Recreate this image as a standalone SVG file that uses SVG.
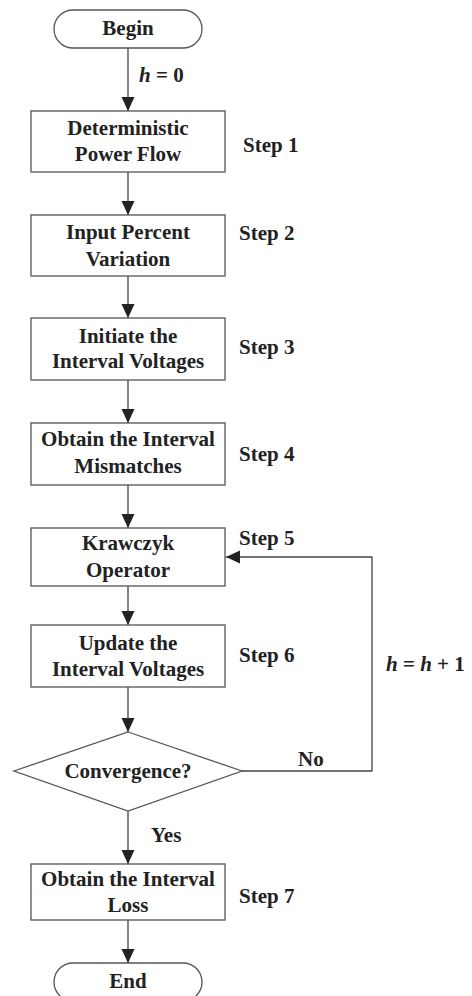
<svg xmlns="http://www.w3.org/2000/svg" width="472" height="996" viewBox="0 0 472 996">
<style>
.box{fill:#fff;stroke:#555;stroke-width:1.3}
.ln{fill:none;stroke:#444;stroke-width:1.3}
text{font-family:"Liberation Serif","Times New Roman",serif;font-weight:bold;font-size:21px;fill:#222}
.c{text-anchor:middle}
.i{font-style:italic}
</style>
<defs>
<marker id="ah" markerUnits="userSpaceOnUse" markerWidth="14" markerHeight="14" viewBox="0 0 14 14" refX="14" refY="7" orient="auto">
<path d="M0,0.5 L14,7 L0,13.5 Z" fill="#222"/>
</marker>
</defs>
<rect width="472" height="996" fill="#fff"/>
<g id="connectors">
<line class="ln" x1="128" y1="48" x2="128" y2="111" marker-end="url(#ah)"/>
<line class="ln" x1="128" y1="172" x2="128" y2="215" marker-end="url(#ah)"/>
<line class="ln" x1="128" y1="276" x2="128" y2="318" marker-end="url(#ah)"/>
<line class="ln" x1="128" y1="380" x2="128" y2="423" marker-end="url(#ah)"/>
<line class="ln" x1="128" y1="485" x2="128" y2="528" marker-end="url(#ah)"/>
<line class="ln" x1="128" y1="586" x2="128" y2="625" marker-end="url(#ah)"/>
<line class="ln" x1="128" y1="687" x2="128" y2="732" marker-end="url(#ah)"/>
<line class="ln" x1="128" y1="811" x2="128" y2="864" marker-end="url(#ah)"/>
<line class="ln" x1="128" y1="920" x2="128" y2="963" marker-end="url(#ah)"/>
<polyline class="ln" points="242,771 372,771 372,557 226,557" marker-end="url(#ah)"/>
<text x="139" y="82"><tspan class="i">h</tspan> = 0</text>
<text x="298" y="766">No</text>
<text x="151" y="842">Yes</text>
<text x="386" y="671"><tspan class="i">h</tspan> = <tspan class="i">h</tspan> + 1</text>
</g>
<g id="begin">
<rect class="box" x="54" y="10" width="148" height="38" rx="19"/>
<text class="c" x="128" y="35">Begin</text>
</g>
<g id="step1">
<rect class="box" x="31" y="111" width="194" height="61"/>
<text class="c" x="128" y="135">Deterministic</text>
<text class="c" x="128" y="161">Power Flow</text>
<text x="243" y="152">Step 1</text>
</g>
<g id="step2">
<rect class="box" x="31" y="215" width="194" height="61"/>
<text class="c" x="128" y="239">Input Percent</text>
<text class="c" x="128" y="266">Variation</text>
<text x="239" y="240">Step 2</text>
</g>
<g id="step3">
<rect class="box" x="31" y="318" width="194" height="62"/>
<text class="c" x="128" y="343">Initiate the</text>
<text class="c" x="128" y="368">Interval Voltages</text>
<text x="239" y="354">Step 3</text>
</g>
<g id="step4">
<rect class="box" x="31" y="423" width="194" height="62"/>
<text class="c" x="128" y="446">Obtain the Interval</text>
<text class="c" x="128" y="473">Mismatches</text>
<text x="239" y="461">Step 4</text>
</g>
<g id="step5">
<rect class="box" x="31" y="528" width="194" height="58"/>
<text class="c" x="128" y="550">Krawczyk</text>
<text class="c" x="128" y="577">Operator</text>
<text x="239" y="545">Step 5</text>
</g>
<g id="step6">
<rect class="box" x="31" y="625" width="194" height="62"/>
<text class="c" x="128" y="650">Update the</text>
<text class="c" x="128" y="676">Interval Voltages</text>
<text x="239" y="662">Step 6</text>
</g>
<g id="convergence">
<polygon class="box" points="128,732 242,771 128,811 14,771"/>
<text class="c" x="128" y="778">Convergence?</text>
</g>
<g id="step7">
<rect class="box" x="31" y="864" width="194" height="56"/>
<text class="c" x="128" y="886">Obtain the Interval</text>
<text class="c" x="128" y="912">Loss</text>
<text x="239" y="903">Step 7</text>
</g>
<g id="end">
<rect class="box" x="54" y="963" width="148" height="38" rx="19"/>
<text class="c" x="128" y="988">End</text>
</g>
</svg>
